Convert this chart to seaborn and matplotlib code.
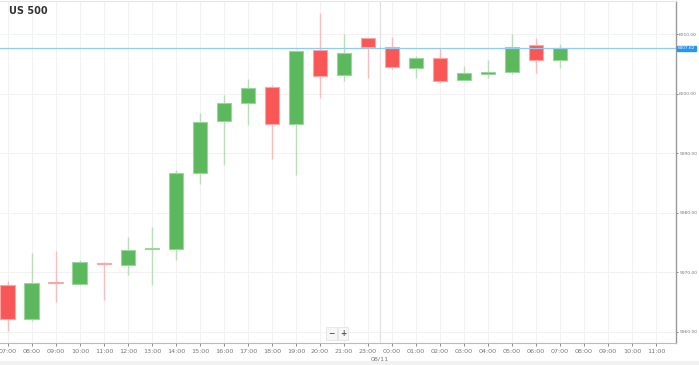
import numpy as np
import pandas as pd
import matplotlib
matplotlib.use("Agg")
import matplotlib.pyplot as plt
from matplotlib.patches import Rectangle
import seaborn as sns

# hourly slots on the x axis (22:00 is the market break, so it is skipped)
slot_labels = ["07:00", "08:00", "09:00", "10:00", "11:00", "12:00", "13:00",
               "14:00", "15:00", "16:00", "17:00", "18:00", "19:00", "20:00",
               "21:00", "23:00", "00:00", "01:00", "02:00", "03:00", "04:00",
               "05:00", "06:00", "07:00", "08:00", "09:00", "10:00", "11:00"]

# one candle per hour, 07:00 .. 07:00 next day
opens = [5967.9, 5962.1, 5968.3, 5968.1, 5971.6, 5971.2, 5973.9, 5973.9,
         5986.6, 5995.4, 5998.4, 6001.1, 5994.9, 6007.3, 6003.1, 6009.4,
         6007.9, 6004.3, 6006.1, 6002.3, 6003.4, 6003.6, 6008.2, 6005.6]
highs = [5968.6, 5973.2, 5973.5, 5972.0, 5971.7, 5975.9, 5977.6, 5987.2,
         5996.8, 5999.8, 6002.5, 6001.5, 6007.2, 6013.5, 6010.0, 6009.4,
         6009.6, 6006.4, 6007.7, 6004.7, 6005.6, 6010.0, 6009.3, 6008.3]
lows = [5960.2, 5961.8, 5965.0, 5967.9, 5965.3, 5969.6, 5967.8, 5972.1,
        5984.9, 5988.1, 5994.8, 5989.1, 5986.3, 5999.3, 6002.1, 6002.7,
        6004.1, 6002.7, 6001.8, 6002.3, 6002.7, 6003.3, 6003.5, 6004.3]
closes = [5962.1, 5968.2, 5968.2, 5971.7, 5971.4, 5973.7, 5974.0, 5986.6,
          5995.2, 5998.4, 6001.0, 5994.9, 6007.2, 6003.0, 6006.9, 6007.9,
          6004.5, 6006.0, 6002.2, 6003.5, 6003.5, 6007.9, 6005.6, 6007.62]
price_ticks = [5960, 5970, 5980, 5990, 6000, 6010]
last_price = 6007.62
day_label = "08/11"

GREEN = "#5cb85c"
RED = "#f95757"

df = pd.DataFrame({"slot": np.arange(len(opens)), "open": opens, "high": highs,
                   "low": lows, "close": closes})
df["up"] = df["close"] >= df["open"]
df["bottom"] = df[["open", "close"]].min(axis=1)
df["height"] = (df["close"] - df["open"]).abs().clip(lower=0.22)

sns.set_style("white")
fig = plt.figure(figsize=(6.99, 3.65), dpi=100)
ax = fig.add_axes([0, 22 / 365, 676 / 699, 342 / 365])

# wicks
for up, wcol in [(True, "#b9deb9"), (False, "#fbbcbc")]:
    sub = df[df["up"] == up]
    ax.vlines(sub["slot"], sub["low"], sub["high"], color=wcol, lw=1.0, zorder=2)

# bodies
for up, col, ecol in [(True, GREEN, "#9bd59b"), (False, RED, "#fca5a5")]:
    sub = df[df["up"] == up].sort_values("slot")
    sns.barplot(data=sub, x="slot", y="height", bottom=sub["bottom"].values,
                native_scale=True, width=0.62, color=col, saturation=1,
                edgecolor=ecol, linewidth=0.8, errorbar=None, ax=ax, zorder=3)

# current price line
ax.axhline(last_price, color="#90cbf5", lw=0.9, zorder=4)

ax.set_xlim(-0.33, 27.83)
ax.set_ylim(5958.1, 6015.6)
ax.set_xlabel("")
ax.set_ylabel("")

ax.set_xticks(range(len(slot_labels)))
ax.set_xticklabels(slot_labels)
ax.set_yticks(price_ticks)
ax.set_yticklabels([f"{v:.2f}" for v in price_ticks])
ax.yaxis.tick_right()
ax.tick_params(axis="x", labelsize=4.6, colors="#777777", length=2, width=0.6, pad=2)
ax.tick_params(axis="y", labelsize=3.2, colors="#777777", length=1.5, width=0.6, pad=0.8)
ax.tick_params(axis="x", bottom=True)
ax.tick_params(axis="y", right=True)

ax.grid(True, color="#f2f2f2", lw=0.8)
ax.set_axisbelow(True)
ax.axvline(15.5, color="#e0e0e0", lw=0.9, zorder=1)

ax.spines["left"].set_visible(False)
ax.spines["top"].set_color("#e6e6e6")
ax.spines["right"].set_color("#999999")
ax.spines["bottom"].set_color("#bbbbbb")
ax.spines["right"].set_linewidth(1.0)
ax.spines["bottom"].set_linewidth(0.8)

# price tag on the right axis
ax.text(1.003, last_price, f"{last_price:.2f}", transform=ax.get_yaxis_transform(),
        fontsize=3.1, color="white", va="center", ha="left",
        bbox=dict(boxstyle="square,pad=0.2", fc="#2196f3", ec="#2196f3"))

# day separator label
ax.text(15.5, -0.04, day_label, transform=ax.get_xaxis_transform(),
        fontsize=4.6, color="#777777", ha="center", va="top")

# zoom buttons
for xpos, sym in [(13.48, "\u2212"), (13.97, "+")]:
    ax.text(xpos, 0.027, sym, transform=ax.get_xaxis_transform(), fontsize=5.5,
            color="#555555", ha="center", va="center", fontweight="bold",
            bbox=dict(boxstyle="square,pad=0.25", fc="#f7f7f7", ec="#e0e0e0", lw=0.5))

fig.text(9 / 699, 1 - 11 / 365, "US 500", fontsize=7, fontweight="bold",
         color="#333333", ha="left", va="center")

fig.patches.append(Rectangle((0, 0), 1, 4 / 365, transform=fig.transFigure,
                             fc="#f1f1f1", ec="none"))

fig.savefig("out.png", dpi=100)
